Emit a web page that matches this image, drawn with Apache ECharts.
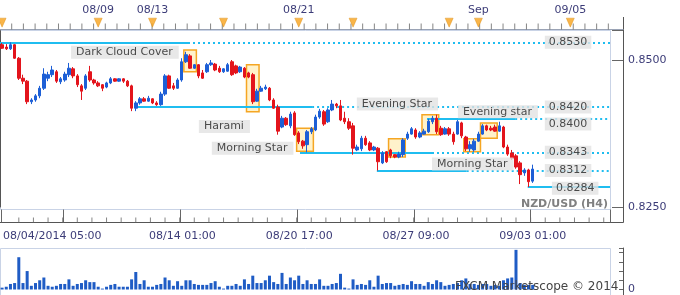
<!DOCTYPE html>
<html>
<head>
<meta charset="utf-8">
<script src="https://cdn.jsdelivr.net/npm/echarts@6.0.0/dist/echarts.min.js"></script>
<style>
  html, body { margin: 0; padding: 0; background: #fff; }
  #chart { width: 680px; height: 295px; }
</style>
</head>
<body>
<div id="chart"></div>
<script>
// NZD/USD H4 candles, one entry per bar
const opens = [
  0.8526,0.8522,0.8519,0.8526,0.8503,0.8469,0.8464,0.8429,0.8432,0.8439,
  0.8452,0.8469,0.8475,0.8480,0.8463,0.8466,0.8475,0.8485,0.8473,0.8456,
  0.8452,0.8480,0.8466,0.8461,0.8458,0.8454,0.8461,0.8468,0.8464,0.8468,
  0.8464,0.8456,0.8418,0.8427,0.8434,0.8430,0.8434,0.8427,0.8424,0.8442,
  0.8473,0.8456,0.8452,0.8466,0.8497,0.8507,0.8486,0.8492,0.8478,0.8480,
  0.8492,0.8493,0.8486,0.8480,0.8481,0.8497,0.8490,0.8480,0.8486,0.8478,
  0.8475,0.8430,0.8447,0.8451,0.8452,0.8432,0.8420,0.8386,0.8401,0.8388,
  0.8410,0.8376,0.8362,0.8356,0.8378,0.8381,0.8403,0.8412,0.8395,0.8415,
  0.8425,0.8422,0.8401,0.8395,0.8388,0.8347,0.8349,0.8367,0.8359,0.8347,
  0.8350,0.8325,0.8344,0.8347,0.8339,0.8335,0.8339,0.8367,0.8374,0.8381,
  0.8369,0.8374,0.8378,0.8395,0.8401,0.8384,0.8374,0.8383,0.8374,0.8374,
  0.8393,0.8369,0.8349,0.8347,0.8362,0.8374,0.8388,0.8384,0.8386,0.8379,
  0.8386,0.8352,0.8342,0.8337,0.8325,0.8308,0.8313,0.8294
];
const closes = [
  0.8520,0.8519,0.8526,0.8503,0.8469,0.8464,0.8429,0.8432,0.8439,0.8452,
  0.8476,0.8475,0.8483,0.8464,0.8468,0.8476,0.8486,0.8473,0.8458,0.8447,
  0.8473,0.8466,0.8461,0.8456,0.8452,0.8461,0.8468,0.8464,0.8468,0.8464,
  0.8456,0.8418,0.8427,0.8434,0.8430,0.8435,0.8427,0.8424,0.8442,0.8473,
  0.8452,0.8452,0.8466,0.8497,0.8509,0.8486,0.8492,0.8473,0.8469,0.8492,
  0.8495,0.8483,0.8480,0.8485,0.8492,0.8475,0.8478,0.8488,0.8471,0.8471,
  0.8429,0.8447,0.8452,0.8454,0.8432,0.8418,0.8379,0.8401,0.8390,0.8408,
  0.8373,0.8361,0.8354,0.8378,0.8383,0.8403,0.8413,0.8391,0.8415,0.8425,
  0.8422,0.8398,0.8395,0.8384,0.8350,0.8352,0.8367,0.8356,0.8347,0.8352,
  0.8327,0.8342,0.8327,0.8337,0.8335,0.8340,0.8364,0.8374,0.8383,0.8369,
  0.8376,0.8379,0.8396,0.8401,0.8378,0.8373,0.8383,0.8374,0.8361,0.8395,
  0.8371,0.8349,0.8356,0.8362,0.8374,0.8388,0.8381,0.8381,0.8379,0.8388,
  0.8352,0.8340,0.8333,0.8318,0.8305,0.8313,0.8293,0.83145
];
const highs = [
  0.8529,0.8527,0.8530,0.8527,0.8505,0.8475,0.8466,0.8435,0.8442,0.8456,
  0.8486,0.8480,0.8490,0.8483,0.8471,0.8480,0.8495,0.8488,0.8476,0.8459,
  0.8476,0.8490,0.8468,0.8464,0.8459,0.8463,0.8471,0.8469,0.8469,0.8469,
  0.8466,0.8458,0.8430,0.8437,0.8437,0.8439,0.8435,0.8430,0.8446,0.8476,
  0.8475,0.8461,0.8469,0.8503,0.8514,0.8510,0.8493,0.8493,0.8483,0.8495,
  0.8500,0.8495,0.8490,0.8486,0.8495,0.8500,0.8492,0.8490,0.8488,0.8480,
  0.8478,0.8451,0.8456,0.8458,0.8454,0.8435,0.8424,0.8405,0.8403,0.8412,
  0.8413,0.8379,0.8364,0.8381,0.8386,0.8407,0.8417,0.8415,0.8418,0.8432,
  0.8427,0.8432,0.8412,0.8401,0.8393,0.8356,0.8371,0.8371,0.8362,0.8354,
  0.8352,0.8345,0.8345,0.8349,0.8340,0.8344,0.8367,0.8378,0.8386,0.8384,
  0.8379,0.8383,0.8400,0.8405,0.8407,0.8388,0.8386,0.8386,0.8378,0.8398,
  0.8395,0.8371,0.8362,0.8366,0.8378,0.8391,0.8390,0.8388,0.8390,0.8395,
  0.8388,0.8356,0.8347,0.8340,0.8328,0.8316,0.8315,0.8322
];
const lows = [
  0.8519,0.8517,0.8517,0.8502,0.8466,0.8459,0.8425,0.8425,0.8429,0.8435,
  0.8449,0.8464,0.8471,0.8461,0.8459,0.8463,0.8471,0.8469,0.8454,0.8432,
  0.8449,0.8463,0.8458,0.8454,0.8447,0.8452,0.8459,0.8463,0.8463,0.8461,
  0.8454,0.8413,0.8413,0.8424,0.8429,0.8429,0.8425,0.8422,0.8422,0.8439,
  0.8451,0.8449,0.8451,0.8463,0.8495,0.8485,0.8485,0.8469,0.8468,0.8478,
  0.8490,0.8481,0.8478,0.8478,0.8480,0.8473,0.8476,0.8478,0.8469,0.8469,
  0.8425,0.8429,0.8446,0.8449,0.8430,0.8417,0.8373,0.8384,0.8388,0.8384,
  0.8371,0.8357,0.8349,0.8343,0.8374,0.8379,0.8400,0.8388,0.8393,0.8413,
  0.8418,0.8396,0.8391,0.8381,0.8339,0.8345,0.8345,0.8354,0.8345,0.8345,
  0.8312,0.8323,0.8325,0.8333,0.8333,0.8333,0.8335,0.8364,0.8373,0.8366,
  0.8367,0.8373,0.8376,0.8391,0.8374,0.8371,0.8373,0.8371,0.8356,0.8373,
  0.8367,0.8345,0.8344,0.8344,0.8361,0.8373,0.8379,0.8379,0.8378,0.8378,
  0.8350,0.8337,0.8330,0.8315,0.8289,0.8303,0.8284,0.8291
];
const volumes = [
  200,300,600,700,3500,700,2000,400,700,1000,1300,400,300,400,600,600,1100,400,600,700,
  1000,800,800,300,100,300,500,600,300,300,
  300,1100,1900,600,1000,300,300,500,600,1300,1000,400,900,400,1000,1000,600,500,500,500,
  700,900,300,100,400,400,600,400,1100,600,1500,700,700,1000,1500,800,600,1800,600,1300,
  1000,1500,600,1000,600,600,1100,400,400,600,700,
  1700,200,100,1100,500,600,500,1000,300,1500,600,700,700,400,500,600,500,900,600,600,
  400,800,600,1000,800,400,500,600,700,1000,1200,600,600,500,600,600,400,500,400,1000,
  1200,1300,4300,700,500,500,500
];

// support / resistance levels (slot units on the x scale)
const levelPrice   = [0.8530, 0.8420, 0.8400, 0.8343, 0.8312, 0.8284];
const levelFrom    = [0, 32.3, 102.2, 71.8, 90.2, 126.3];
const levelSolidTo = [45, 74.7, 123.3, 103.4, 111.7, 146];
const tagAt    = [130.4, 130.4, 130.4, 130.4, 130.4, 132.1];
const tagPrice = [0.8530, 0.8420, 0.8391, 0.8343, 0.8312, 0.8282];

// highlighted candle patterns
const boxFrom = [44, 59, 71, 93, 101, 111, 115];
const boxTo   = [46, 61, 74, 96, 104, 114, 118];
const boxHigh = [0.8517, 0.8492, 0.8384, 0.8366, 0.8407, 0.8366, 0.8393];
const boxLow  = [0.8480, 0.8412, 0.8345, 0.8335, 0.8373, 0.8344, 0.8367];

const noteText  = ['Dark Cloud Cover', 'Harami', 'Morning Star', 'Evening Star', 'Evening star', 'Morning Star'];
const noteAt    = [17.0, 47.6, 50.7, 85.4, 109.6, 103.4];
const notePrice = [0.8513, 0.8387, 0.8350, 0.8425, 0.8412, 0.8323];

// time axes
const timeLabelSlots = [0, 43, 71, 99, 127];
const timeLabelText  = ['08/04/2014 05:00', '08/14 01:00', '08/20 17:00', '08/27 09:00', '09/03 01:00'];
const majorTickSlots = [0, 15, 43, 71, 99, 127];
const eventSlots     = [0, 23, 36, 53, 71, 84, 107, 114, 136];
const topLabelSlots  = [23, 36, 71, 114, 136];
const topLabelText   = ['08/09', '08/13', '08/21', 'Sep', '09/05'];
const priceLabels    = [0.8250, 0.8500];

const SLOTS = 146;
const slots = [];
for (let i = 0; i < SLOTS; i++) slots.push(String(i));

const FONT = 'DejaVu Sans';
const AXIS_TEXT = '#3c3c78';
const CYAN = '#1fbdf0';
const TICK = '#666';
const FRAME = '#555';

// small tick marks of the two time strips (bar-boundary units)
const minorTicks = [];
for (let b = 4.5; b < SLOTS; b += 3.5) minorTicks.push([b, 0.19]);
const topTicks = [];
for (let b = 2.8; b < SLOTS; b += 2.8) topTicks.push([b, 0.24]);

const candleData = opens.map((o, i) => [o, closes[i], lows[i], highs[i]]);

const levelSegs = [];
for (let k = 0; k < levelPrice.length; k++) {
  const p = levelPrice[k];
  levelSegs.push({ coords: [[levelFrom[k], p], [levelSolidTo[k], p]] });
  if (levelSolidTo[k] < SLOTS) {
    levelSegs.push({ coords: [[levelSolidTo[k], p], [SLOTS, p]], lineStyle: { type: [2, 3] } });
  }
}

const boxAreas = boxFrom.map((f, k) => [
  { coord: [f, boxHigh[k]] },
  { coord: [boxTo[k] + 1, boxLow[k]] }
]);

const labelBox = {
  show: true, position: 'right', distance: 0,
  color: '#222', fontFamily: FONT, fontSize: 11, lineHeight: 11,
  backgroundColor: '#e2e2e2', padding: [1, 6, 1, 5]
};

const blankLabel = { show: true, formatter: () => '' };

const chart = echarts.init(document.getElementById('chart'));

chart.setOption({
  animation: false,
  backgroundColor: '#fff',
  title: [
    { text: 'NZD/USD (H4)', right: 72, top: 199, padding: 0,
      textStyle: { fontFamily: FONT, fontSize: 11, fontWeight: 'bold', color: '#808080' } },
    { text: 'FXCM Marketscope \u00a9 2014', left: 455, top: 281, padding: 0,
      textStyle: { fontFamily: FONT, fontSize: 12, fontWeight: 'normal', color: '#444' } }
  ],
  graphic: [
    { type: 'rect', shape: { x: 0.5, y: 30.5, width: 610, height: 179 },
      style: { fill: null, stroke: '#c9d3e6', lineWidth: 1 }, silent: true, z: -1 },
    { type: 'rect', shape: { x: 0.5, y: 248.5, width: 610, height: 52 },
      style: { fill: null, stroke: '#c9d3e6', lineWidth: 1 }, silent: true, z: -1 },
    { type: 'line', shape: { x1: 623.5, y1: 17, x2: 623.5, y2: 222.5 },
      style: { stroke: FRAME, lineWidth: 1 }, silent: true },
    { type: 'line', shape: { x1: 0, y1: 222.5, x2: 623.5, y2: 222.5 },
      style: { stroke: FRAME, lineWidth: 1 }, silent: true },
    { type: 'line', shape: { x1: 0, y1: 29.5, x2: 623.5, y2: 29.5 },
      style: { stroke: '#9aa3b5', lineWidth: 1 }, silent: true },
    { type: 'line', shape: { x1: 623.5, y1: 248, x2: 623.5, y2: 295 },
      style: { stroke: FRAME, lineWidth: 1 }, silent: true }
  ],
  grid: [
    { left: 0, top: 30.6, width: 610, height: 176.4 },   // candles
    { left: 0, top: 209, width: 610, height: 13.5 },     // time strip minor ticks
    { left: 0, top: 209, width: 610, height: 13.5 },     // time strip major ticks + labels
    { left: 0, top: 17, width: 610, height: 12.5 },      // event strip
    { left: 0, top: 17, width: 610, height: 12.5 },      // event labels
    { left: 0, top: 248, width: 610, height: 45 }        // volume
  ],
  xAxis: [
    { gridIndex: 0, type: 'category', data: slots, show: false },
    { gridIndex: 0, type: 'value', min: 0, max: SLOTS, show: false },
    { gridIndex: 1, type: 'value', min: 0, max: SLOTS, show: false },
    { gridIndex: 2, type: 'category', data: slots, position: 'bottom',
      axisLine: { show: true, lineStyle: { color: FRAME } },
      axisTick: { show: true, inside: true, length: 13, interval: (i) => majorTickSlots.indexOf(i) !== -1, lineStyle: { color: TICK } },
      axisLabel: {
        interval: (i) => timeLabelSlots.indexOf(i) !== -1,
        formatter: (v) => { const k = timeLabelSlots.indexOf(Number(v)); return k === -1 ? '' : timeLabelText[k]; },
        alignMinLabel: 'left', showMinLabel: true,
        margin: 8, color: AXIS_TEXT, fontFamily: FONT, fontSize: 11
      } },
    { gridIndex: 3, type: 'value', min: 0, max: SLOTS, show: false },
    { gridIndex: 4, type: 'category', data: slots, position: 'top',
      axisLine: { show: false }, axisTick: { show: false },
      axisLabel: {
        interval: (i) => topLabelSlots.indexOf(i) !== -1,
        formatter: (v) => { const k = topLabelSlots.indexOf(Number(v)); return k === -1 ? '' : topLabelText[k]; },
        margin: 1, color: AXIS_TEXT, fontFamily: FONT, fontSize: 11
      } },
    { gridIndex: 5, type: 'category', data: slots, show: false }
  ],
  yAxis: [
    { gridIndex: 0, type: 'value', min: 0.825, max: 0.855, interval: 0.0025,
      position: 'right', offset: 13, splitLine: { show: false },
      axisLine: { show: true, lineStyle: { color: FRAME } },
      axisTick: { show: true, inside: true, length: 4, lineStyle: { color: TICK } },
      axisLabel: {
        margin: 5, color: AXIS_TEXT, fontFamily: FONT, fontSize: 11,
        formatter: (v) => priceLabels.some((p) => Math.abs(p - v) < 1e-7) ? v.toFixed(4) : ''
      } },
    { gridIndex: 0, type: 'value', min: 0.825, max: 0.855, interval: 0.025,
      position: 'right', offset: 13, splitLine: { show: false },
      axisLine: { show: true, lineStyle: { color: FRAME } },
      axisTick: { show: true, inside: true, length: 11, lineStyle: { color: TICK } },
      axisLabel: blankLabel },
    { gridIndex: 1, type: 'value', min: 0, max: 1, show: false },
    { gridIndex: 2, type: 'value', show: false },
    { gridIndex: 3, type: 'value', min: 0, max: 1, show: false },
    { gridIndex: 4, type: 'value', show: false },
    { gridIndex: 5, type: 'value', min: 0, max: 4500, interval: 1000,
      position: 'right', offset: 13, splitLine: { show: false },
      axisLine: { show: true, lineStyle: { color: FRAME } },
      axisTick: { show: true, inside: true, length: 4, lineStyle: { color: TICK } },
      axisLabel: { margin: 5, color: AXIS_TEXT, fontFamily: FONT, fontSize: 11,
        formatter: (v) => v === 0 ? '0' : '' } }
  ],
  series: [
    {
      name: 'levels', type: 'lines', coordinateSystem: 'cartesian2d',
      xAxisIndex: 1, yAxisIndex: 0, silent: true, z: 2,
      lineStyle: { color: CYAN, width: 2, opacity: 1 },
      data: levelSegs
    },
    {
      name: 'NZD/USD', type: 'candlestick', xAxisIndex: 0, yAxisIndex: 0,
      barWidth: 3, z: 3, clip: false,
      itemStyle: { color: '#1d5fd6', borderColor: '#1d5fd6', color0: '#e3141c', borderColor0: '#e3141c', borderWidth: 1 },
      data: candleData,
      markLine: {
        silent: true, symbol: 'none',
        lineStyle: { opacity: 0 },
        label: {
          position: 'end', distance: 12, formatter: () => closes[closes.length - 1].toFixed(5),
          backgroundColor: '#5bc6f4', color: '#111', padding: [2, 3, 1, 3],
          fontFamily: FONT, fontSize: 11
        },
        data: [{ yAxis: closes[closes.length - 1] }]
      }
    },
    {
      name: 'notes', type: 'scatter', xAxisIndex: 1, yAxisIndex: 0,
      symbolSize: 0, silent: true, z: 5,
      data: noteText.map((t, k) => [noteAt[k], notePrice[k], t]),
      label: Object.assign({}, labelBox, { formatter: (p) => p.data[2] }),
      markArea: {
        silent: true,
        itemStyle: { color: 'rgba(255,232,160,0.55)', borderColor: '#f5a623', borderWidth: 1.5 },
        data: boxAreas
      }
    },
    {
      name: 'tags', type: 'scatter', xAxisIndex: 1, yAxisIndex: 0,
      symbolSize: 0, silent: true, z: 5,
      data: tagPrice.map((p, k) => [tagAt[k], p, levelPrice[k].toFixed(4)]),
      label: Object.assign({}, labelBox, { padding: [1, 4, 1, 4], formatter: (p) => p.data[2] })
    },
    {
      name: 'minor ticks', type: 'scatter', xAxisIndex: 2, yAxisIndex: 2,
      symbol: 'rect', symbolSize: [1, 5], silent: true,
      itemStyle: { color: TICK },
      data: minorTicks
    },
    {
      name: 'top ticks', type: 'scatter', xAxisIndex: 4, yAxisIndex: 4,
      symbol: 'rect', symbolSize: [1, 6], silent: true,
      itemStyle: { color: TICK },
      data: topTicks
    },
    {
      name: 'events', type: 'scatter', xAxisIndex: 4, yAxisIndex: 4,
      symbol: 'triangle', symbolRotate: 180, symbolSize: [8, 9], silent: true, z: 4,
      itemStyle: { color: '#f7a21b', borderColor: '#d98a10', borderWidth: 0.5 },
      data: eventSlots.map((s) => [s + 0.5, 0.55])
    },
    {
      name: 'volume', type: 'bar', xAxisIndex: 6, yAxisIndex: 6,
      barWidth: 3, silent: true,
      itemStyle: { color: '#1f5cc5' },
      data: volumes
    }
  ]
});
</script>
</body>
</html>
